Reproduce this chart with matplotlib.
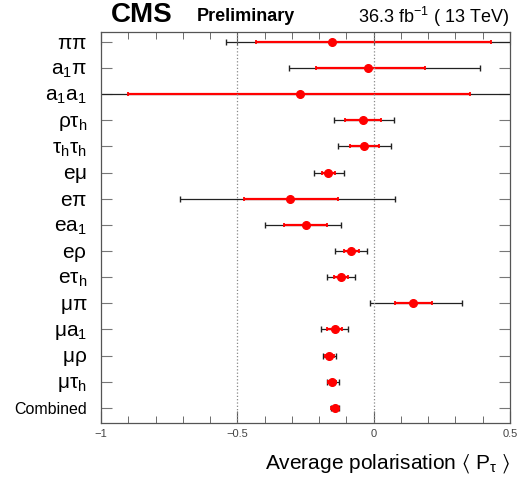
import numpy as np
import matplotlib
matplotlib.use('Agg')
import matplotlib.pyplot as plt
from matplotlib.ticker import MultipleLocator

plt.rcParams['font.family'] = ['Liberation Sans', 'DejaVu Sans']
plt.rcParams['mathtext.fontset'] = 'custom'
plt.rcParams['mathtext.rm'] = 'Liberation Sans'
plt.rcParams['mathtext.it'] = 'Liberation Sans'

# каналы и значения
channels = [r'$\mathregular{\pi\pi}$', r'$\mathregular{a_1\pi}$', r'$\mathregular{a_1a_1}$',
            r'$\mathregular{\rho\tau_h}$', r'$\mathregular{\tau_h\tau_h}$', r'$\mathregular{e\mu}$',
            r'$\mathregular{e\pi}$', r'$\mathregular{ea_1}$', r'$\mathregular{e\rho}$',
            r'$\mathregular{e\tau_h}$', r'$\mathregular{\mu\pi}$', r'$\mathregular{\mu a_1}$',
            r'$\mathregular{\mu\rho}$', r'$\mathregular{\mu\tau_h}$', 'Combined']
central = np.array([-0.153, -0.02, -0.27, -0.04, -0.037, -0.166, -0.307, -0.248,
                    -0.083, -0.12, 0.143, -0.143, -0.163, -0.153, -0.143])
stat_lo = np.array([-0.43, -0.21, -0.90, -0.106, -0.088, -0.19, -0.474, -0.327,
                    -0.11, -0.145, 0.079, -0.17, -0.178, -0.168, -0.155])
stat_hi = np.array([0.43, 0.19, 0.354, 0.028, 0.018, -0.14, -0.13, -0.172,
                    -0.055, -0.095, 0.213, -0.115, -0.147, -0.138, -0.131])
tot_lo = np.array([-0.54, -0.31, -1.1, -0.147, -0.13, -0.22, -0.71, -0.398,
                   -0.142, -0.17, -0.015, -0.194, -0.185, -0.17, -0.158])
tot_hi = np.array([0.6, 0.39, 0.6, 0.076, 0.063, -0.11, 0.08, -0.12,
                   -0.025, -0.07, 0.325, -0.095, -0.137, -0.127, -0.128])

y = np.arange(len(channels))

fig = plt.figure(figsize=(5.19, 4.84), dpi=100)
ax = fig.add_axes([0.1946, 0.126, 0.788, 0.808])

ax.errorbar(central, y, xerr=[central - tot_lo, tot_hi - central], fmt='none',
            ecolor='#222222', elinewidth=0.9, capsize=2, capthick=1.0)
ax.errorbar(central, y, xerr=[central - stat_lo, stat_hi - central], fmt='none',
            ecolor='#ff0000', elinewidth=1.6, capsize=1.5, capthick=1.3)
ax.plot(central, y, 'o', color='#ff0000', markersize=5.5, zorder=5)

ax.axvline(-0.5, color='#888888', linestyle=':', linewidth=0.9)
ax.axvline(0.0, color='#888888', linestyle=':', linewidth=0.9)

ax.set_xlim(-1, 0.5)
ax.set_ylim(len(channels) - 0.42, -0.38)
ax.set_yticks(y)
ax.set_yticklabels(channels)
for i, lab in enumerate(ax.get_yticklabels()):
    lab.set_fontsize(11.5 if i == len(channels) - 1 else 15)

ax.xaxis.set_major_locator(MultipleLocator(0.5))
ax.xaxis.set_minor_locator(MultipleLocator(0.1))
ax.set_xticks([-1, -0.5, 0, 0.5])
ax.set_xticklabels(['\u22121', '\u22120.5', '0', '0.5'])
ax.tick_params(axis='x', which='major', direction='in', length=9, top=True,
               labelsize=8, labelcolor='#444444', color='#555555', pad=4)
ax.tick_params(axis='x', which='minor', direction='in', length=5, top=True, color='#555555')
ax.tick_params(axis='y', which='major', direction='in', length=8, right=True,
               color='#777777', pad=10)
for s in ax.spines.values():
    s.set_color('#555555')
    s.set_linewidth(0.9)

ax.set_xlabel(r'Average polarisation $\mathregular{\langle\ P_\tau\ \rangle}$',
              fontsize=15, loc='right', labelpad=10)

fig.text(0.214, 0.968, 'CMS', fontsize=20, fontweight='bold', va='center')
fig.text(0.38, 0.966, 'Preliminary', fontsize=13, fontweight='bold', va='center')
fig.text(0.98, 0.966, r'36.3 fb$^{\mathregular{-1}}$ ( 13 TeV)', fontsize=13,
         ha='right', va='center')

plt.savefig('out.png', dpi=100)
